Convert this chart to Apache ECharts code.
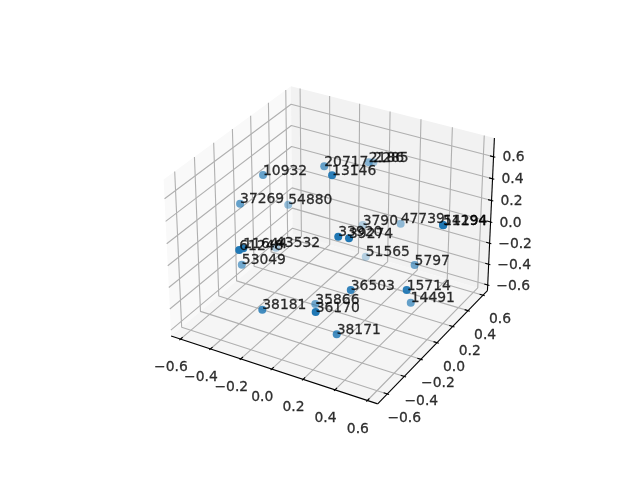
<!DOCTYPE html><html><head><meta charset="utf-8"><style>html,body{margin:0;background:#fff}#c{width:640px;height:480px}</style>
<script src="https://cdn.jsdelivr.net/npm/echarts@6/dist/echarts.min.js"></script></head><body><div id="c"></div><script>
const labels=["10932","37269","54880","20717","13146","2186","2285","3790","47739","14194","51294","33920","39274","51565","5797","36503","15714","14491","38171","35866","36170","38181","53049","61248","11644","43532"];
const xs=[-0.459,-0.531,-0.419,-0.172,0.030,-0.048,-0.083,-0.104,0.171,0.651,0.648,0.172,0.225,-0.042,0.381,0.246,0.539,0.442,0.211,-0.052,0.168,-0.180,-0.469,-0.276,-0.291,-0.481];
const ys=[-0.010,-0.149,0.200,0.190,-0.080,0.495,0.618,0.532,0.487,0.057,0.060,-0.265,-0.239,0.458,0.260,-0.254,-0.148,0.100,-0.351,-0.130,-0.511,-0.503,-0.246,-0.575,-0.509,0.157];
const zs=[0.435,0.235,0.038,0.496,0.665,0.386,0.294,-0.253,-0.098,0.376,0.376,0.300,0.289,-0.483,-0.242,-0.160,-0.109,-0.454,-0.514,-0.515,-0.205,-0.346,-0.239,0.211,0.173,-0.368];
const tickValues=[-.6,-.4,-.2,0,.2,.4,.6];
const xE=[-.663,.663],yE=[-.71,.66],zE=[-.656,.768];
const lim=e=>{const c=(e[0]+e[1])/2,r=(e[1]-e[0])*24/25;return [c-r/2,c+r/2]};
const xL=lim(xE),yL=lim(yE),zL=lim(zE);
const f=1.8294640721620434/Math.sqrt(41),B=[4*f,4*f,3*f],R=B.map(v=>v/2),dist=10,el=30*Math.PI/180,az=-60*Math.PI/180;
const wv=[Math.cos(az)*Math.cos(el),Math.sin(az)*Math.cos(el),Math.sin(el)],E=R.map((r,i)=>r+wv[i]*dist);
const cross=(a,b)=>[a[1]*b[2]-a[2]*b[1],a[2]*b[0]-a[0]*b[2],a[0]*b[1]-a[1]*b[0]],dot=(a,b)=>a[0]*b[0]+a[1]*b[1]+a[2]*b[2];
let u=cross([0,0,1],wv);const n=Math.sqrt(dot(u,u));u=u.map(v=>v/n);const v=cross(wv,u);
const W=(x,y,z)=>[(x-xL[0])/(xL[1]-xL[0])*B[0],(y-yL[0])/(yL[1]-yL[0])*B[1],(z-zL[0])/(zL[1]-zL[0])*B[2]];
const P=(x,y,z)=>{const w=W(x,y,z),d=w.map((c,i)=>c-E[i]),t=-dot(d,wv);return [dot(d,u)/t,dot(d,v)/t,t]};
const GL=143.35,GW=377.7;
const sol=labels.map((l,i)=>[xs[i],ys[i],zs[i]]);
const lines=[];
const dy=(yE[1]-yE[0])/12,dx=(xE[1]-xE[0])/12;
tickValues.forEach(t=>{lines.push({c:'#b0b0b0',p:[[t,yE[0],zE[0]],[t,yE[1],zE[0]],[t,yE[1],zE[1]]]});lines.push({c:'#b0b0b0',p:[[xE[1],t,zE[0]],[xE[0],t,zE[0]],[xE[0],t,zE[1]]]});lines.push({c:'#b0b0b0',p:[[xE[0],yE[0],t],[xE[0],yE[1],t],[xE[1],yE[1],t]]});});
lines.push({c:'#000',p:[[xE[0],yE[0],zE[0]],[xE[1],yE[0],zE[0]]]},{c:'#000',p:[[xE[1],yE[0],zE[0]],[xE[1],yE[1],zE[0]]]},{c:'#000',p:[[xE[1],yE[1],zE[0]],[xE[1],yE[1],zE[1]]]});
tickValues.forEach(t=>{lines.push({c:'#000',p:[[t,yE[0]-.1*dy,zE[0]],[t,yE[0]+.2*dy,zE[0]]]});lines.push({c:'#000',p:[[xE[1]+.1*dx,t,zE[0]],[xE[1]-.2*dx,t,zE[0]]]});lines.push({c:'#000',p:[[xE[1]+.1*dx,yE[1],t],[xE[1]-.2*dx,yE[1],t]]});});
const panes=[{c:'#f9f9f9',p:[[xE[0],yE[0],zE[0]],[xE[0],yE[1],zE[0]],[xE[0],yE[1],zE[1]],[xE[0],yE[0],zE[1]]]},{c:'#f2f2f2',p:[[xE[0],yE[1],zE[0]],[xE[1],yE[1],zE[0]],[xE[1],yE[1],zE[1]],[xE[0],yE[1],zE[1]]]},{c:'#f5f5f5',p:[[xE[0],yE[0],zE[0]],[xE[1],yE[0],zE[0]],[xE[1],yE[1],zE[0]],[xE[0],yE[1],zE[0]]]}];
const series=[];
const txt={fontFamily:'DejaVu Sans',fontSize:13.89,color:'#000',textBorderColor:'#000',textBorderWidth:0.3};
panes.forEach(p=>series.push({type:'custom',coordinateSystem:'cartesian2d',silent:true,z:1,data:[0],renderItem:(a,api)=>({type:'polygon',shape:{points:p.p.map(q=>api.coord(P(...q).slice(0,2)))},style:{fill:p.c}})}));
lines.forEach(l=>series.push({type:'line',z:2,symbol:'none',silent:true,lineStyle:{color:l.c,width:1.11},data:l.p.map(q=>P(...q).slice(0,2))}));
const tl=t=>(t<0?'\u2212':'')+Math.abs(t).toFixed(1);
const lab=(pos,text,ox,oy)=>series.push({type:'scatter',z:6,symbolSize:0,silent:true,label:{show:true,formatter:text,position:[ox,oy],align:'center',verticalAlign:'middle',...txt},data:[P(...pos).slice(0,2)]});
tickValues.forEach(t=>{lab([t,yE[0],zE[0]],tl(t),-9.5,28.5);lab([xE[1],t,zE[0]],tl(t),17,24.5);lab([xE[1],yE[1],t],tl(t),t<0?25.5:20,1);});
const ds=sol.map(s=>P(...s)[2]),dn=Math.min(...ds),dm=Math.max(...ds);
sol.map((s,i)=>i).sort((a,b)=>ds[b]-ds[a]).forEach(i=>{const p=P(...sol[i]);series.push({type:'scatter',z:5,symbolSize:8,itemStyle:{color:'#1f77b4',opacity:1-.7*(p[2]-dn)/(dm-dn)},data:[p.slice(0,2)],silent:true})});
sol.forEach((s,i)=>series.push({type:'scatter',z:6,symbolSize:0,silent:true,label:{show:true,formatter:labels[i],position:[0,3],align:'left',verticalAlign:'bottom',...txt},data:[P(...s).slice(0,2)]}));
echarts.init(document.getElementById('c')).setOption({animation:false,grid:{left:GL,top:57.6,width:GW,height:369.6},xAxis:{type:'value',min:-.095,max:.095,show:false},yAxis:{type:'value',min:-.095,max:.09,show:false},series});
</script></body></html>
